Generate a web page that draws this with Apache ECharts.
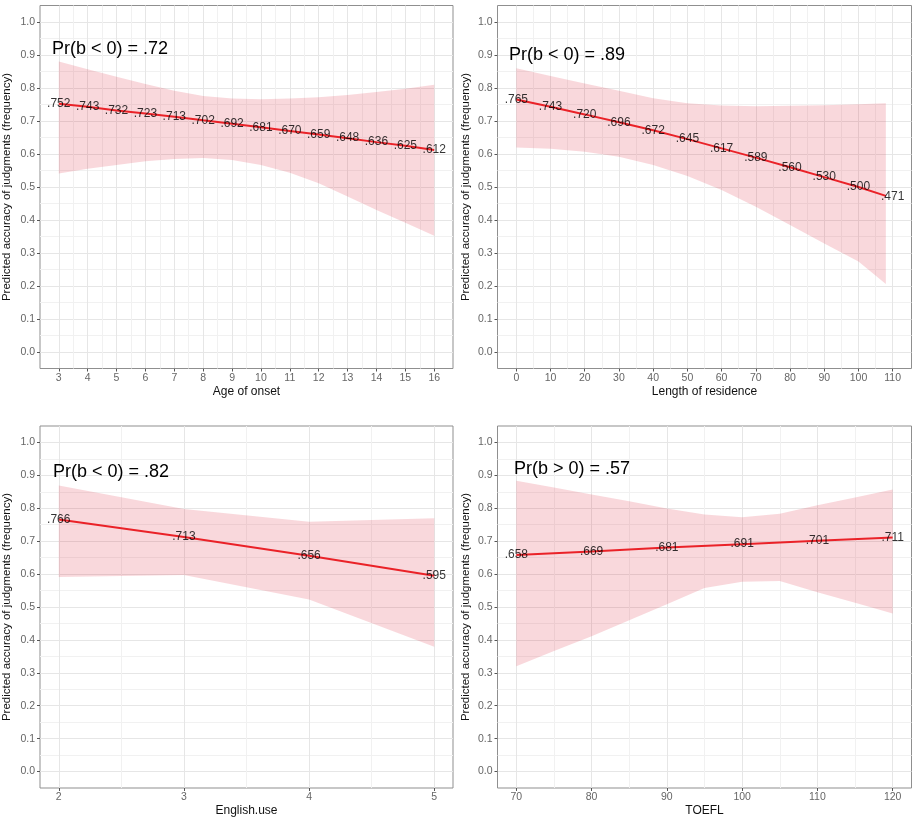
<!DOCTYPE html>
<html>
<head>
<meta charset="utf-8">
<title>Predicted accuracy of judgments</title>
<script src="https://cdn.jsdelivr.net/npm/echarts@6/dist/echarts.min.js"></script>
<style>
  html, body { margin: 0; padding: 0; background: #fff; }
  #main { width: 914px; height: 818px; }
</style>
</head>
<body>
<div id="main"></div>
<script>
// y axis, shared by the four panels
const yTicks = [0, 0.1, 0.2, 0.3, 0.4, 0.5, 0.6, 0.7, 0.8, 0.9, 1.0];
const yMinor = [0.05, 0.15, 0.25, 0.35, 0.45, 0.55, 0.65, 0.75, 0.85, 0.95];

// panel 1: Age of onset
const onsetX = [3, 4, 5, 6, 7, 8, 9, 10, 11, 12, 13, 14, 15, 16];
const onsetMinor = [3.5, 4.5, 5.5, 6.5, 7.5, 8.5, 9.5, 10.5, 11.5, 12.5, 13.5, 14.5, 15.5];
const onsetFit = [.752, .743, .732, .723, .713, .702, .692, .681, .670, .659, .648, .636, .625, .612];
const onsetUpper = [.880, .857, .834, .812, .792, .776, .768, .766, .768, .772, .779, .788, .798, .810];
const onsetLower = [.541, .555, .567, .578, .585, .588, .582, .567, .543, .511, .471, .430, .392, .352];

// panel 2: Length of residence
const resTicks = [0, 10, 20, 30, 40, 50, 60, 70, 80, 90, 100, 110];
const resMinor = [5, 15, 25, 35, 45, 55, 65, 75, 85, 95, 105];
const resX = [0, 10, 20, 30, 40, 50, 60, 70, 80, 90, 100, 108];
const resFit = [.765, .743, .720, .696, .672, .645, .617, .589, .560, .530, .500, .473];
const resUpper = [.860, .836, .814, .792, .769, .754, .747, .745, .746, .748, .751, .754];
const resLower = [.620, .616, .607, .592, .567, .533, .491, .440, .385, .329, .274, .206];
const resLabels = [.765, .743, .720, .696, .672, .645, .617, .589, .560, .530, .500, .471];

// panel 3: English.use
const useX = [2, 3, 4, 5];
const useMinor = [2.5, 3.5, 4.5];
const useFit = [.766, .713, .656, .595];
const useUpper = [.869, .798, .759, .770];
const useLower = [.591, .597, .523, .379];

// panel 4: TOEFL
const toeflX = [70, 80, 90, 100, 110, 120];
const toeflMinor = [75, 85, 95, 105, 115];
const toeflFit = [.658, .669, .681, .691, .701, .711];
const toeflBandX = [70, 75, 80, 85, 90, 95, 100, 105, 110, 115, 120];
const toeflUpper = [.884, .863, .842, .821, .799, .781, .773, .783, .809, .833, .857];
const toeflLower = [.320, .366, .411, .460, .508, .558, .577, .579, .545, .513, .480];

const yTitle = 'Predicted accuracy of judgments (frequency)';
const FONT = '"Liberation Sans", Arial, sans-serif';
const bandColor = 'rgba(220, 40, 60, 0.18)';
const lineColor = '#ea2228';
const majorGrid = '#e6e6e6';
const minorGrid = '#f1f1f1';

const panels = [
  { title: 'Age of onset', left: 39, top: 5.5, height: 363, xMin: 2.35, xMax: 16.65,
    ticks: onsetX, minor: onsetMinor, bandX: onsetX, lower: onsetLower, upper: onsetUpper,
    lineX: onsetX, fit: onsetFit, labelX: onsetX, labels: onsetFit,
    note: 'Pr(b < 0) = .72', noteX: 52, noteY: 50, nameGap: 27 },
  { title: 'Length of residence', left: 497.5, top: 5.5, height: 363, xMin: -5.5, xMax: 115.5,
    ticks: resTicks, minor: resMinor, bandX: resX, lower: resLower, upper: resUpper,
    lineX: resX, fit: resFit, labelX: resTicks, labels: resLabels,
    note: 'Pr(b < 0) = .89', noteX: 509, noteY: 56, nameGap: 26 },
  { title: 'English.use', left: 39, top: 426, height: 362, xMin: 1.85, xMax: 5.15,
    ticks: useX, minor: useMinor, bandX: useX, lower: useLower, upper: useUpper,
    lineX: useX, fit: useFit, labelX: useX, labels: useFit,
    note: 'Pr(b < 0) = .82', noteX: 53, noteY: 473, nameGap: 27 },
  { title: 'TOEFL', left: 497.5, top: 426, height: 362, xMin: 67.5, xMax: 122.5,
    ticks: toeflX, minor: toeflMinor, bandX: toeflBandX, lower: toeflLower, upper: toeflUpper,
    lineX: toeflX, fit: toeflFit, labelX: toeflX, labels: toeflFit,
    note: 'Pr(b > 0) = .57', noteX: 514, noteY: 470, nameGap: 26 }
];

function fmt(v) {
  return v.toFixed(3).slice(1);
}

function bandRenderer(xs, lo, hi) {
  return function (params, api) {
    if (params.dataIndex !== 0) return;
    const pts = [];
    for (let i = 0; i < xs.length; i++) pts.push(api.coord([xs[i], hi[i]]));
    for (let i = xs.length - 1; i >= 0; i--) pts.push(api.coord([xs[i], lo[i]]));
    return { type: 'polygon', shape: { points: pts }, style: { fill: bandColor } };
  };
}

const grid = [], xAxis = [], yAxis = [], series = [], graphic = [];

panels.forEach(function (p, i) {
  grid.push({
    left: p.left, top: p.top, width: 414, height: p.height,
    show: true, borderColor: '#8f8f8f', borderWidth: 1
  });

  // minor grid lines
  xAxis.push({
    type: 'value', gridIndex: i, min: p.xMin, max: p.xMax, position: 'top',
    axisLine: { show: false, onZero: false }, axisLabel: { show: false },
    axisTick: { show: false, customValues: p.minor },
    splitLine: { show: true, lineStyle: { color: minorGrid, width: 1 } }
  });
  // major grid lines, ticks and labels
  xAxis.push({
    type: 'value', gridIndex: i, min: p.xMin, max: p.xMax, position: 'bottom',
    name: p.title, nameLocation: 'middle', nameGap: 17,
    nameTextStyle: { color: '#111', fontSize: 12, fontFamily: FONT },
    axisLine: { show: false, onZero: false },
    axisTick: { show: true, length: 3, customValues: p.ticks, lineStyle: { color: '#555' } },
    axisLabel: { customValues: p.ticks, color: '#666', fontSize: 10.5, margin: 4, fontFamily: FONT },
    splitLine: { show: true, lineStyle: { color: majorGrid, width: 1 } }
  });

  yAxis.push({
    type: 'value', gridIndex: i, min: -0.05, max: 1.05, position: 'right',
    axisLine: { show: false, onZero: false }, axisLabel: { show: false },
    axisTick: { show: false, customValues: yMinor },
    splitLine: { show: true, lineStyle: { color: minorGrid, width: 1 } }
  });
  yAxis.push({
    type: 'value', gridIndex: i, min: -0.05, max: 1.05, position: 'left',
    name: yTitle, nameLocation: 'middle', nameGap: p.nameGap,
    nameTextStyle: { color: '#111', fontSize: 11.5, fontFamily: FONT },
    axisLine: { show: false, onZero: false },
    axisTick: { show: true, length: 3, customValues: yTicks, lineStyle: { color: '#555' } },
    axisLabel: { customValues: yTicks, color: '#666', fontSize: 10.5, margin: 5, fontFamily: FONT,
      formatter: function (v) { return v.toFixed(1); } },
    splitLine: { show: true, lineStyle: { color: majorGrid, width: 1 } }
  });

  const xi = 2 * i + 1, yi = 2 * i + 1;

  series.push({
    type: 'custom', xAxisIndex: xi, yAxisIndex: yi, z: 2,
    renderItem: bandRenderer(p.bandX, p.lower, p.upper),
    encode: { x: 0, y: [1, 2] },
    data: p.bandX.map(function (x, k) { return [x, p.lower[k], p.upper[k]]; })
  });
  series.push({
    type: 'line', xAxisIndex: xi, yAxisIndex: yi, z: 3,
    showSymbol: false, symbol: 'none',
    lineStyle: { color: lineColor, width: 2 },
    data: p.lineX.map(function (x, k) { return [x, p.fit[k]]; })
  });
  series.push({
    type: 'scatter', xAxisIndex: xi, yAxisIndex: yi, z: 4,
    symbolSize: 1, itemStyle: { color: 'transparent' },
    label: {
      show: true, position: 'inside', color: '#000', fontSize: 12, fontFamily: FONT,
      formatter: function (d) { return fmt(d.value[1]); }
    },
    data: p.labelX.map(function (x, k) { return [x, p.labels[k]]; })
  });

  graphic.push({
    type: 'text', left: p.noteX, top: p.noteY - 10, z: 10,
    style: { text: p.note, fill: '#000', font: '18px ' + FONT }
  });
});

const chart = echarts.init(document.getElementById('main'));
chart.setOption({
  animation: false,
  backgroundColor: '#fff',
  grid: grid,
  xAxis: xAxis,
  yAxis: yAxis,
  series: series,
  graphic: graphic
});
</script>
</body>
</html>
